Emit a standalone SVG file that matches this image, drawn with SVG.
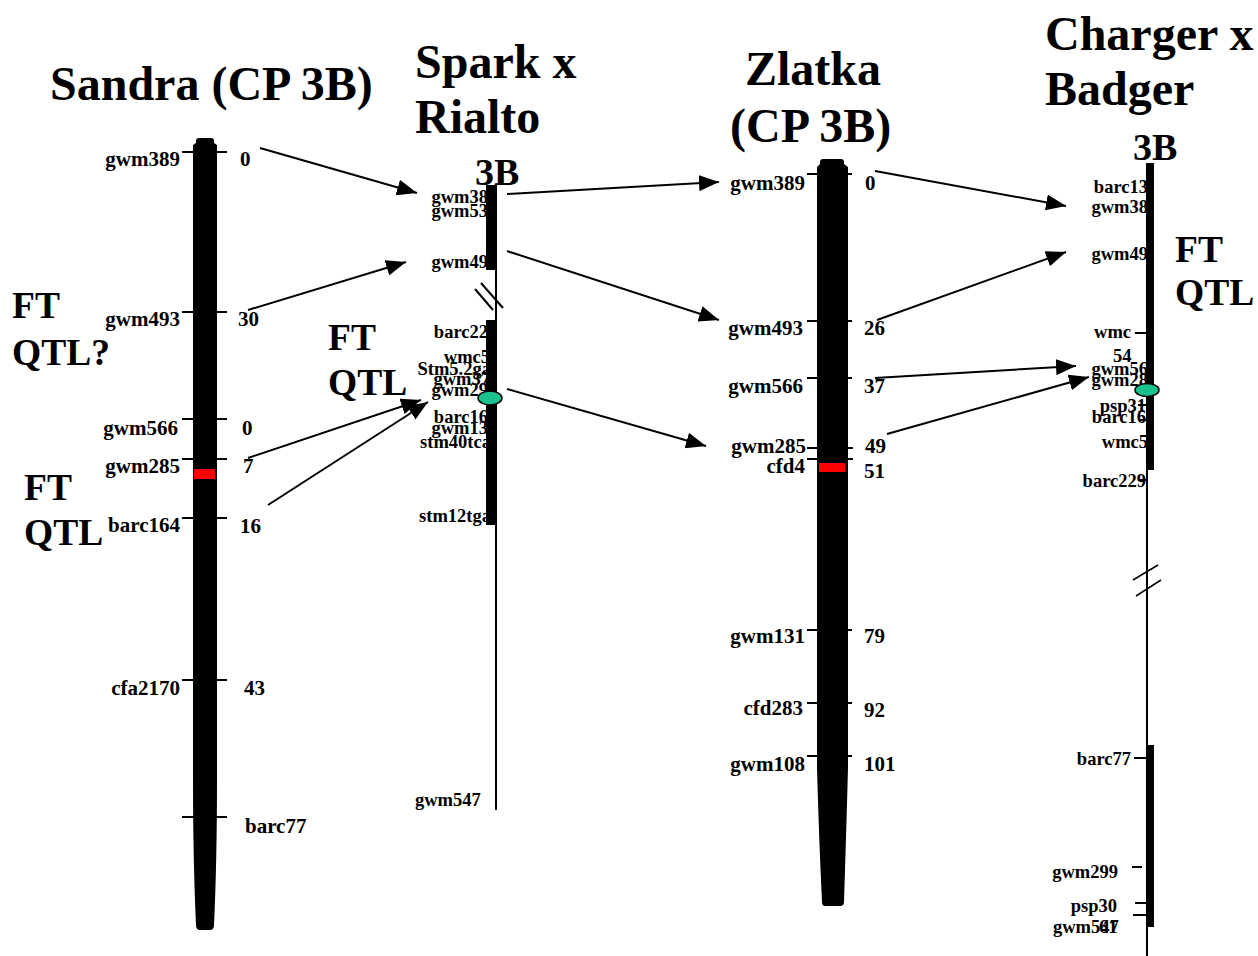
<svg xmlns="http://www.w3.org/2000/svg" width="1258" height="956" viewBox="0 0 1258 956">
<style>
text{font-family:"Liberation Serif","Times New Roman",serif;font-weight:bold;fill:#000}
.title{font-size:48px}
.sub{font-size:38px}
.ft{font-size:37.5px}
.lb{font-size:21px}
.ls{font-size:18.5px}
.e{text-anchor:end}
.tk{stroke:#000;stroke-width:2}
.cn{stroke:#000;stroke-width:2;fill:none}
.qtl{fill:#19C18E;stroke:#000;stroke-width:1.5}
</style>
<defs>
<marker id="ah" markerUnits="userSpaceOnUse" markerWidth="22" markerHeight="16" refX="20" refY="8" orient="auto">
<path d="M0,0 L20,8 L0,16 z" fill="#000"/>
</marker>
</defs>
<rect width="1258" height="956" fill="#fff"/>

<g id="titles">
<text class="title" x="50" y="100">Sandra (CP 3B)</text>
<text class="title" x="415" y="78">Spark x</text>
<text class="title" x="415" y="133">Rialto</text>
<text class="title" x="745" y="85">Zlatka</text>
<text class="title" x="730" y="142">(CP 3B)</text>
<text class="title" x="1045" y="50">Charger x</text>
<text class="title" x="1045" y="105">Badger</text>
<text class="sub" x="1133" y="160">3B</text>
<text class="sub" x="475" y="185">3B</text>
</g>

<g id="ft-labels">
<text class="ft" x="12" y="318">FT</text>
<text class="ft" x="12" y="365">QTL?</text>
<text class="ft" x="24" y="500">FT</text>
<text class="ft" x="24" y="545">QTL</text>
<text class="ft" x="328" y="350">FT</text>
<text class="ft" x="328" y="395">QTL</text>
<text class="ft" x="1175" y="262">FT</text>
<text class="ft" x="1175" y="305">QTL</text>
</g>

<g id="sandra">
<path d="M199,138 L211,138 Q214,138 214,141 L214,143 L217,145 L217,780 Q217,860 214,925 Q214,930 210,930 L200,930 Q196,930 196,925 Q193,860 193,780 L193,145 L196,143 L196,141 Q196,138 199,138 z" fill="#000"/>
<rect x="194" y="469" width="21" height="10" fill="#f00"/>
<g class="tk">
<line x1="182" y1="152" x2="227" y2="152"/>
<line x1="182" y1="312" x2="227" y2="312"/>
<line x1="182" y1="419" x2="227" y2="419"/>
<line x1="182" y1="459" x2="227" y2="459"/>
<line x1="182" y1="518" x2="227" y2="518"/>
<line x1="182" y1="680" x2="227" y2="680"/>
<line x1="182" y1="817" x2="227" y2="817"/>
</g>
<text class="lb e" x="180" y="166">gwm389</text>
<text class="lb e" x="180" y="326">gwm493</text>
<text class="lb e" x="178" y="435">gwm566</text>
<text class="lb e" x="180" y="473">gwm285</text>
<text class="lb e" x="180" y="532">barc164</text>
<text class="lb e" x="180" y="695">cfa2170</text>
<text class="lb" x="245" y="833">barc77</text>
<text class="lb" x="240" y="166">0</text>
<text class="lb" x="238" y="326">30</text>
<text class="lb" x="242" y="435">0</text>
<text class="lb" x="243" y="473">7</text>
<text class="lb" x="240" y="533">16</text>
<text class="lb" x="244" y="695">43</text>
</g>

<g id="spark">
<text class="ls e" x="488" y="203">gwm38</text>
<text class="ls e" x="488" y="217">gwm53</text>
<text class="ls e" x="488" y="268">gwm49</text>
<text class="ls e" x="488" y="338">barc22</text>
<text class="ls e" x="490" y="363">wmc5</text>
<text class="ls e" x="491" y="375">Stm5.2ga</text>
<text class="ls e" x="490" y="385">gwm37</text>
<text class="ls e" x="488" y="396">gwm29</text>
<text class="ls e" x="488" y="423">barc16</text>
<text class="ls e" x="488" y="434">gwm13</text>
<text class="ls e" x="491" y="448">stm40tca</text>
<text class="ls e" x="491" y="522">stm12tga</text>
<text class="ls" x="415" y="806">gwm547</text>
<line x1="496" y1="185" x2="496" y2="810" stroke="#000" stroke-width="2"/>
<rect x="486" y="185" width="9" height="85" fill="#000"/>
<rect x="486" y="320" width="9" height="205" fill="#000"/>
<line x1="475" y1="289" x2="493" y2="310" class="tk" stroke-width="1.5"/>
<line x1="481" y1="283" x2="503" y2="308" class="tk" stroke-width="1.5"/>
<ellipse class="qtl" cx="490" cy="398" rx="12" ry="7"/>
</g>

<g id="zlatka">
<path d="M823,159 L841,159 Q844,159 844,162 L844,164 L848,167 L848,768 Q846,840 844,902 Q844,906 840,906 L825,906 Q822,906 822,902 Q819,840 817,768 L817,167 L820,164 L820,162 Q820,159 823,159 z" fill="#000"/>
<rect x="819" y="463" width="26" height="9" fill="#f00"/>
<g class="tk">
<line x1="807" y1="174" x2="852" y2="174"/>
<line x1="807" y1="321" x2="852" y2="321"/>
<line x1="807" y1="378" x2="852" y2="378"/>
<line x1="807" y1="448" x2="820" y2="448"/>
<line x1="848" y1="448" x2="853" y2="448"/>
<line x1="807" y1="459" x2="820" y2="459"/>
<line x1="848" y1="459" x2="853" y2="459"/>
<line x1="807" y1="630" x2="852" y2="630"/>
<line x1="807" y1="703" x2="852" y2="703"/>
<line x1="807" y1="756" x2="852" y2="756"/>
</g>
<text class="lb e" x="805" y="190">gwm389</text>
<text class="lb e" x="803" y="335">gwm493</text>
<text class="lb e" x="803" y="393">gwm566</text>
<text class="lb e" x="806" y="453">gwm285</text>
<text class="lb e" x="805" y="473">cfd4</text>
<text class="lb e" x="805" y="643">gwm131</text>
<text class="lb e" x="803" y="715">cfd283</text>
<text class="lb e" x="805" y="771">gwm108</text>
<text class="lb" x="865" y="190">0</text>
<text class="lb" x="864" y="335">26</text>
<text class="lb" x="864" y="393">37</text>
<text class="lb" x="865" y="453">49</text>
<text class="lb" x="864" y="478">51</text>
<text class="lb" x="864" y="643">79</text>
<text class="lb" x="864" y="717">92</text>
<text class="lb" x="864" y="771">101</text>
</g>

<g id="charger">
<text class="ls e" x="1148" y="193">barc13</text>
<text class="ls e" x="1148" y="213">gwm38</text>
<text class="ls e" x="1148" y="260">gwm49</text>
<text class="ls e" x="1131" y="338">wmc</text>
<text class="ls" x="1113" y="362">54</text>
<text class="ls e" x="1148" y="375">gwm56</text>
<text class="ls e" x="1148" y="386">gwm28</text>
<text class="ls e" x="1146" y="412">psp31</text>
<text class="ls e" x="1146" y="423">barc16</text>
<text class="ls e" x="1148" y="448">wmc5</text>
<text class="ls e" x="1146" y="487">barc229</text>
<text class="ls e" x="1131" y="765">barc77</text>
<text class="ls e" x="1118" y="878">gwm299</text>
<text class="ls e" x="1117" y="912">psp30</text>
<text class="ls" x="1053" y="933">gwm547</text>
<text class="ls" x="1099" y="933">61</text>
<line x1="1147" y1="163" x2="1147" y2="956" stroke="#000" stroke-width="2"/>
<rect x="1146" y="163" width="8" height="307" fill="#000"/>
<rect x="1147" y="745" width="7" height="182" fill="#000"/>
<g class="tk">
<line x1="1135" y1="333" x2="1147" y2="333"/>
<line x1="1138" y1="405" x2="1147" y2="405"/>
<line x1="1140" y1="420" x2="1147" y2="420"/>
<line x1="1138" y1="480" x2="1147" y2="480"/>
<line x1="1134" y1="758" x2="1147" y2="758"/>
<line x1="1132" y1="867" x2="1142" y2="867"/>
<line x1="1135" y1="903" x2="1147" y2="903"/>
<line x1="1133" y1="915" x2="1147" y2="915"/>
<line x1="1133" y1="580" x2="1158" y2="565" stroke-width="1.5"/>
<line x1="1136" y1="596" x2="1161" y2="580" stroke-width="1.5"/>
</g>
<ellipse class="qtl" cx="1147" cy="390" rx="12" ry="6.5"/>
</g>

<g id="connectors">
<line class="cn" x1="260" y1="148" x2="417" y2="193" marker-end="url(#ah)"/>
<line class="cn" x1="248" y1="310" x2="406" y2="262" marker-end="url(#ah)"/>
<line class="cn" x1="248" y1="458" x2="421" y2="400" marker-end="url(#ah)"/>
<line class="cn" x1="268" y1="505" x2="428" y2="402" marker-end="url(#ah)"/>
<line class="cn" x1="507" y1="194" x2="719" y2="182" marker-end="url(#ah)"/>
<line class="cn" x1="507" y1="251" x2="719" y2="320" marker-end="url(#ah)"/>
<line class="cn" x1="507" y1="389" x2="706" y2="446" marker-end="url(#ah)"/>
<line class="cn" x1="875" y1="171" x2="1066" y2="206" marker-end="url(#ah)"/>
<line class="cn" x1="877" y1="320" x2="1066" y2="252" marker-end="url(#ah)"/>
<line class="cn" x1="875" y1="378" x2="1076" y2="366" marker-end="url(#ah)"/>
<line class="cn" x1="887" y1="434" x2="1089" y2="377" marker-end="url(#ah)"/>
</g>
</svg>
